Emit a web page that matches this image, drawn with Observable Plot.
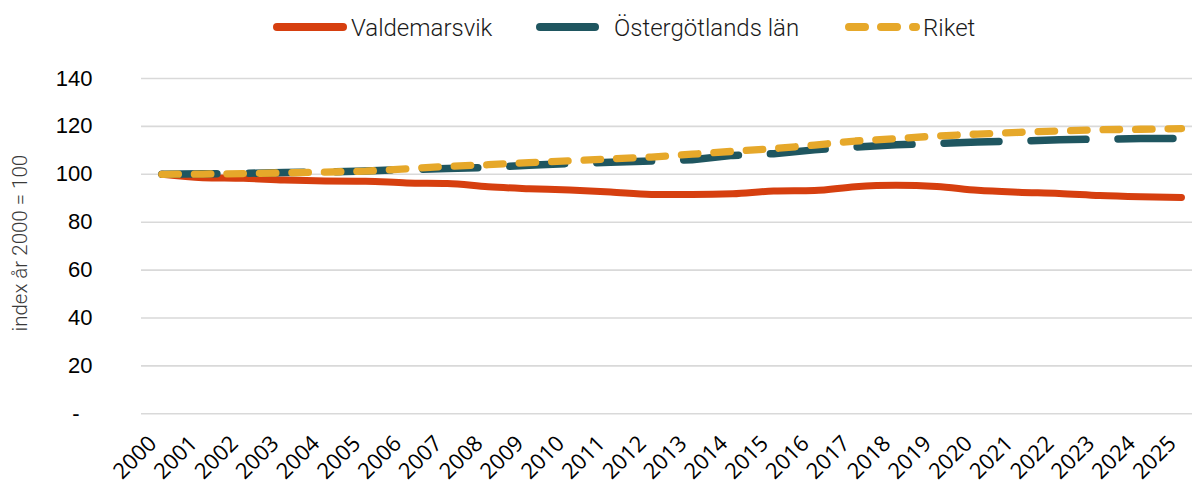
<!DOCTYPE html>
<html><head><meta charset="utf-8">
<script src="https://cdn.jsdelivr.net/npm/d3@7"></script>
<script src="https://cdn.jsdelivr.net/npm/@observablehq/plot@0.6"></script>
<style>
body{margin:0;background:#fff;}
#legend{display:block;}
</style></head><body>
<svg id="legend" width="1192" height="46"></svg>
<div id="chart"></div>
<script>
const years = [2000,2001,2002,2003,2004,2005,2006,2007,2008,2009,2010,2011,2012,2013,2014,2015,2016,2017,2018,2019,2020,2021,2022,2023,2024,2025];
const valdemarsvik = [100,98.6,98.3,97.6,97.2,97.1,96.4,96.2,94.8,94.0,93.4,92.6,91.6,91.6,91.9,93.0,93.2,94.8,95.4,94.9,93.3,92.5,92.0,91.1,90.6,90.3];
const ostergotland = [100,100.2,100.4,100.7,101.0,101.4,102.0,102.4,102.9,103.8,104.5,105.0,105.6,106.1,107.9,108.6,110.2,111.4,112.3,112.9,113.5,113.9,114.4,114.7,114.9,114.9];
const riket = [100,100.1,100.3,100.6,100.9,101.3,102.3,103.3,104.0,104.9,105.6,106.4,107.2,108.4,109.6,110.7,112.2,113.9,114.9,116.0,116.8,117.5,118.1,118.6,118.8,119.1];
const seriesNames = ["Valdemarsvik","Östergötlands län","Riket"];
const seriesColors = ["#d63f0f","#1f5660","#e6a82a"];
const yTicks = [0,20,40,60,80,100,120,140];
const yTitle = "index år 2000 = 100";

// Legend (swatches + labels)
const lg = d3.select("#legend");
const legendItems = [
  {name: seriesNames[0], color: seriesColors[0], x1: 277, x2: 343, tx: 351, dash: null},
  {name: seriesNames[1], color: seriesColors[1], x1: 540, x2: 595, tx: 614, dash: null},
  {name: seriesNames[2], color: seriesColors[2], x1: 849, x2: 916, tx: 923, dash: "16 16"}
];
for (const it of legendItems) {
  const l = lg.append("line").attr("x1", it.x1).attr("x2", it.x2).attr("y1", 27).attr("y2", 27)
    .attr("stroke", it.color).attr("stroke-width", 8).attr("stroke-linecap", "round");
  if (it.dash) l.attr("stroke-dasharray", it.dash);
  lg.append("text").attr("x", it.tx).attr("y", 36).text(it.name)
    .attr("font-family", "Roboto, sans-serif").attr("font-weight", 300).attr("font-size", 24).attr("fill", "#1a1a1a");
}

const mk = (arr, name) => years.map((y, i) => ({year: y, value: arr[i], series: name}));
const dV = mk(valdemarsvik, seriesNames[0]);
const dO = mk(ostergotland, seriesNames[1]);
const dR = mk(riket, seriesNames[2]);

const chart = Plot.plot({
  width: 1192, height: 438,
  marginLeft: 141, marginRight: 0, marginTop: 32, marginBottom: 70.7,
  x: {domain: [1999.5, 2025.27]},
  y: {domain: [0, 140]},
  style: {background: "#fff", overflow: "visible"},
  marks: [
    Plot.ruleY(yTicks, {stroke: "#d9d9d9", strokeWidth: 1.6}),
    Plot.axisY(yTicks.filter(d => d > 0), {tickSize: 0, tickPadding: 49, fontSize: 22, fontFamily: "Liberation Sans, Arial, sans-serif", fill: "#000", label: null}),
    Plot.axisY([0], {tickSize: 0, tickPadding: 62, tickFormat: () => "-", fontSize: 22, fontFamily: "Liberation Sans, Arial, sans-serif", fill: "#000", label: null}),
    Plot.axisX(years, {tickSize: 0, tickPadding: 26, tickRotate: -45, textAnchor: "end", lineAnchor: "middle", dx: -9, tickFormat: d => String(d), fontSize: 22, fontFamily: "Open Sans, sans-serif", fill: "#000", label: null}),
    Plot.text([yTitle], {frameAnchor: "left", textAnchor: "middle", rotate: -90, dx: -121.5, dy: -3, fontSize: 20.5, fontWeight: 300, fontFamily: "Roboto, sans-serif", fill: "#3a3a3a"}),
    Plot.line(dV, {x: "year", y: "value", stroke: seriesColors[0], strokeWidth: 7, curve: "monotone-x", strokeLinecap: "round", strokeLinejoin: "round"}),
    Plot.line(dO, {x: "year", y: "value", stroke: seriesColors[1], strokeWidth: 7.5, strokeLinecap: "round", strokeLinejoin: "round", strokeDasharray: "55 32"}),
    Plot.line(dR, {x: "year", y: "value", stroke: seriesColors[2], strokeWidth: 7.3, strokeLinecap: "round", strokeLinejoin: "round", strokeDasharray: "16.5 16"})
  ]
});
document.getElementById("chart").appendChild(chart);
</script>
</body></html>
